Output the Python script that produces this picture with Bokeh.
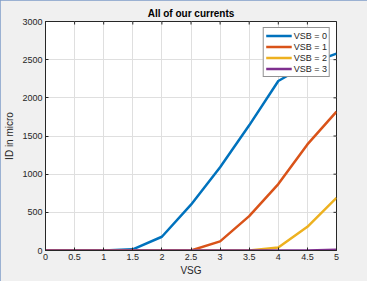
import math
from bokeh.plotting import figure
from bokeh.models import FixedTicker, Range1d, Legend, LegendItem
from bokeh.embed import file_html
from bokeh.resources import INLINE

vsg = [0, 0.5, 1, 1.5, 2, 2.5, 3, 3.5, 4, 4.5, 5]
id_vsb0 = [0, 0, 0, 15, 180, 600, 1090, 1640, 2220, 2440, 2580]
id_vsb1 = [0, 0, 0, 0, 0, 0, 120, 450, 870, 1390, 1820]
id_vsb2 = [0, 0, 0, 0, 0, 0, 0, 0, 40, 310, 690]
id_vsb3 = [0, 0, 0, 0, 0, 0, 0, 0, 0, 0, 10]
series_names = ["VSB = 0", "VSB = 1", "VSB = 2", "VSB = 3"]
x_ticks = [0, 0.5, 1, 1.5, 2, 2.5, 3, 3.5, 4, 4.5, 5]
x_tick_labels = ["0", "0.5", "1", "1.5", "2", "2.5", "3", "3.5", "4", "4.5", "5"]
y_ticks = [0, 500, 1000, 1500, 2000, 2500, 3000]
x_max = 5
y_max = 3000

colors = ["#0072BD", "#D95319", "#EDB120", "#7E2F8E"]
FONT = "Liberation Sans"
TXT = "#262626"

p = figure(width=367, height=281, output_backend="svg", toolbar_location=None,
           x_range=Range1d(0, x_max), y_range=Range1d(0, y_max),
           min_border_left=45, min_border_right=31, min_border_top=21, min_border_bottom=31)
p.border_fill_color = "#f0f0f0"
p.background_fill_color = "white"
p.outline_line_color = TXT
p.outline_line_width = 1
p.styles = {"outline": "1px solid #7f9cc8", "outline-offset": "-1px"}

p.title.text = "All of our currents"
p.title.align = "center"
p.title.text_font = FONT
p.title.text_font_size = "10px"
p.title.text_font_style = "bold"
p.title.text_color = "black"
p.title.standoff = 6
p.title.offset = 0

p.xgrid.ticker = FixedTicker(ticks=x_ticks)
p.ygrid.ticker = FixedTicker(ticks=y_ticks)
p.grid.grid_line_color = "#dfdfdf"
p.grid.grid_line_width = 1

# inward ticks on the top and right edges (box on)
p.scatter(x_ticks, [y_max] * len(x_ticks), marker="dash", size=6, angle=math.pi / 2,
          line_color=TXT, line_width=1)
p.scatter([x_max] * len(y_ticks), y_ticks, marker="dash", size=6,
          line_color=TXT, line_width=1)

renderers = []
for ys, c in zip([id_vsb0, id_vsb1, id_vsb2, id_vsb3], colors):
    r = p.line(vsg, ys, line_color=c, line_width=2.5)
    renderers.append(r)

xax = p.xaxis[0]
yax = p.yaxis[0]
xax.ticker = FixedTicker(ticks=x_ticks)
xax.major_label_overrides = {t: l for t, l in zip(x_ticks, x_tick_labels)}
yax.ticker = FixedTicker(ticks=y_ticks)
for ax in (xax, yax):
    ax.axis_line_color = TXT
    ax.major_tick_line_color = TXT
    ax.major_tick_in = 3
    ax.major_tick_out = 0
    ax.minor_tick_line_color = None
    ax.major_label_text_font = FONT
    ax.major_label_text_font_size = "9px"
    ax.major_label_text_color = TXT
    ax.axis_label_text_font = FONT
    ax.axis_label_text_font_size = "10px"
    ax.axis_label_text_font_style = "normal"
    ax.axis_label_text_color = TXT
xax.axis_label = "VSG"
yax.axis_label = "ID in micro"
xax.major_label_standoff = 3
yax.major_label_standoff = 3
xax.axis_label_standoff = 2
yax.axis_label_standoff = 4

legend = Legend(items=[LegendItem(label=n, renderers=[r]) for n, r in zip(series_names, renderers)],
                location="top_right")
legend.label_text_font = FONT
legend.label_text_font_size = "9px"
legend.label_text_color = TXT
legend.border_line_color = TXT
legend.border_line_width = 1
legend.background_fill_color = "white"
legend.background_fill_alpha = 1
legend.glyph_width = 26
legend.glyph_height = 11
legend.label_height = 11
legend.spacing = 0
legend.padding = 2
legend.margin = 6
legend.label_standoff = 2
p.add_layout(legend)

open("out.html", "w").write(file_html(p, INLINE))
